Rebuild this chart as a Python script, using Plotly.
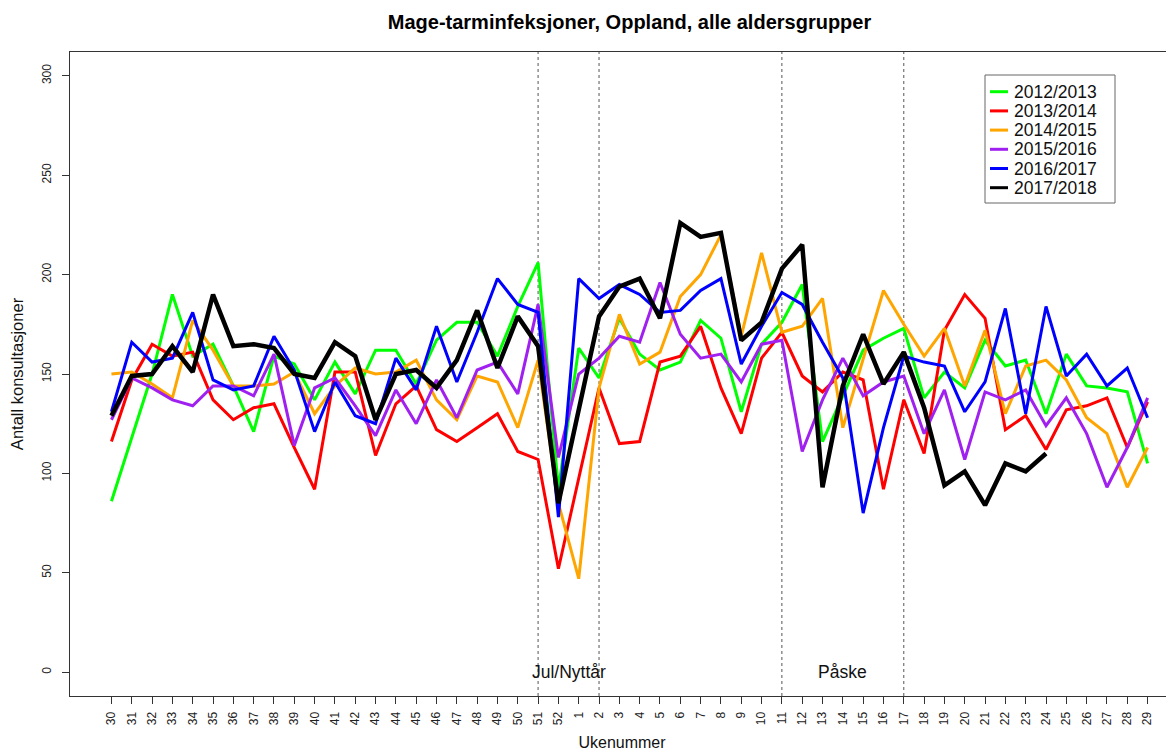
import plotly.graph_objects as go

weeks = list(range(30, 53)) + list(range(1, 30))

season_names = ["2012/2013", "2013/2014", "2014/2015", "2015/2016", "2016/2017", "2017/2018"]

s2012 = [86, 118, 150, 190, 159, 165, 144, 121, 159, 155, 137, 156, 140, 162, 162, 145, 167, 176, 176, 159, 184, 206,
         92, 163, 148, 178, 160, 152, 156, 177, 168, 131, 165, 176, 195, 116, 139, 162, 168, 173, 138, 151, 143, 167,
         154, 157, 130, 160, 144, 143, 141, 105]
s2013 = [116, 147, 165, 159, 161, 137, 127, 133, 135, 113, 92, 151, 151, 109, 135, 144, 122, 116, 123, 130, 111, 107,
         52, 98, 143, 115, 116, 156, 159, 174, 143, 120, 158, 171, 149, 141, 151, 147, 92, 137, 110, 172, 190, 178,
         122, 129, 112, 132, 134, 138, 113, 136]
s2014 = [150, 151, 145, 138, 177, 162, 144, 144, 145, 151, 130, 144, 153, 150, 151, 157, 137, 127, 149, 146, 123, 157,
         85, 47, 143, 180, 155, 161, 189, 200, 220, 169, 211, 171, 174, 188, 123, 157, 192, 175, 159, 173, 144, 172,
         130, 154, 157, 147, 128, 120, 93, 113]
s2015 = [127, 148, 143, 137, 134, 144, 144, 139, 160, 114, 143, 148, 134, 119, 142, 125, 147, 128, 152, 156, 140, 185,
         108, 150, 158, 169, 166, 196, 170, 158, 160, 146, 165, 167, 111, 137, 158, 139, 146, 149, 120, 142, 107, 141,
         137, 142, 124, 138, 120, 93, 113, 138]
s2016 = [131, 166, 156, 158, 181, 147, 142, 144, 169, 152, 121, 146, 129, 125, 158, 142, 174, 146, 171, 198, 185, 181,
         78, 198, 188, 195, 190, 181, 182, 192, 198, 155, 174, 191, 185, 166, 148, 80, 123, 159, 156, 154, 131, 146,
         183, 130, 184, 149, 160, 144, 153, 128]
s2017 = [129, 149, 150, 164, 151, 190, 164, 165, 163, 150, 148, 166, 159, 127, 150, 152, 143, 157, 182, 153, 179, 164,
         85, 132, 179, 194, 198, 178, 226, 219, 221, 167, 176, 203, 215, 93, 144, 170, 145, 161, 133, 94, 101, 84,
         105, 101, 110]

series = [s2012, s2013, s2014, s2015, s2016, s2017]
colors = ["#00FF00", "#FF0000", "#FFA500", "#A020F0", "#0000FF", "#000000"]
widths = [3, 3, 3, 3, 3, 4.5]

holiday_weeks = [51, 2, 11, 17]
holiday_labels = ["Jul/Nyttår", "Påske"]
holiday_label_pos = [22.5, 36]

yticks = [0, 50, 100, 150, 200, 250, 300]

FONT = "Liberation Sans, Arial, Helvetica, sans-serif"

OFF = 8  # page body margin of the browser
W, H = 1174 - OFF, 751 - OFF
ML, MR, MT = 70 - OFF, 0, 52 - OFF
MB = H - (696 - OFF)


def px(x):
    # page pixel -> paper coordinate
    return (x - OFF - ML) / (W - ML - MR)


def py(y):
    return (H - MB - (y - OFF)) / (H - MT - MB)


fig = go.Figure()
xi = list(range(len(weeks)))
for name, vals, c, w in zip(season_names, series, colors, widths):
    fig.add_trace(go.Scatter(x=xi[:len(vals)], y=vals, mode="lines", name=name,
                             line=dict(color=c, width=w), showlegend=False))

for hw in holiday_weeks:
    idx = weeks.index(hw)
    fig.add_shape(type="line", xref="x", yref="paper", x0=idx, x1=idx, y0=0, y1=1,
                  line=dict(color="#555555", width=1, dash="3px,3px"), layer="below")

for lab, pos in zip(holiday_labels, holiday_label_pos):
    fig.add_annotation(x=pos, y=0, xref="x", yref="y", text=lab, showarrow=False,
                       font=dict(family=FONT, size=17.5, color="#111111"))

# legend drawn manually (R-style compact legend)
fig.add_shape(type="rect", xref="paper", yref="paper", x0=px(985), x1=px(1115), y0=py(203), y1=py(75),
              line=dict(color="#666666", width=1), fillcolor="white", layer="above")
for k, (name, c) in enumerate(zip(season_names, colors)):
    yy = 91.7 + 19.2 * k
    fig.add_shape(type="line", xref="paper", yref="paper", x0=px(990), x1=px(1008), y0=py(yy), y1=py(yy),
                  line=dict(color=c, width=3), layer="above")
    fig.add_annotation(xref="paper", yref="paper", x=px(1012), y=py(yy), xanchor="left", yanchor="middle",
                       text=name, showarrow=False, font=dict(family=FONT, size=17.5, color="#111111"))

fig.update_layout(
    width=W, height=H,
    margin=dict(l=ML, r=MR, t=MT, b=MB),
    paper_bgcolor="white", plot_bgcolor="white",
    font=dict(family=FONT, color="#111111"),
    title=dict(text="<b>Mage-tarminfeksjoner, Oppland, alle aldersgrupper</b>",
               x=(629.5 - OFF) / W, xanchor="center", xref="container", y=1 - (22 - OFF) / H,
               yanchor="middle", font=dict(family=FONT, size=20, color="#000000")),
    showlegend=False,
)

fig.update_xaxes(range=[-2.04, 52.3], tickmode="array", tickvals=xi, ticktext=[str(w) for w in weeks],
                 tickangle=-90, ticks="outside", ticklen=7, tickcolor="#333333", ticklabelstandoff=3,
                 tickfont=dict(family=FONT, size=12, color="#222222"),
                 showline=True, mirror=True, linecolor="#333333", linewidth=1,
                 showgrid=False, zeroline=False, automargin=False,
                 title=dict(text="Ukenummer", font=dict(family=FONT, size=16, color="#111111"), standoff=14))
fig.update_yaxes(range=[-12, 312], tickmode="array", tickvals=yticks, ticktext=[str(v) for v in yticks],
                 tickangle=-90, ticks="outside", ticklen=7, tickcolor="#333333", ticklabelstandoff=6,
                 tickfont=dict(family=FONT, size=12, color="#222222"),
                 showline=True, mirror=True, linecolor="#333333", linewidth=1,
                 showgrid=False, zeroline=False, automargin=False,
                 title=dict(text="Antall konsultasjoner", font=dict(family=FONT, size=16.5, color="#111111"),
                            standoff=20))

fig.write_html("out.html")
